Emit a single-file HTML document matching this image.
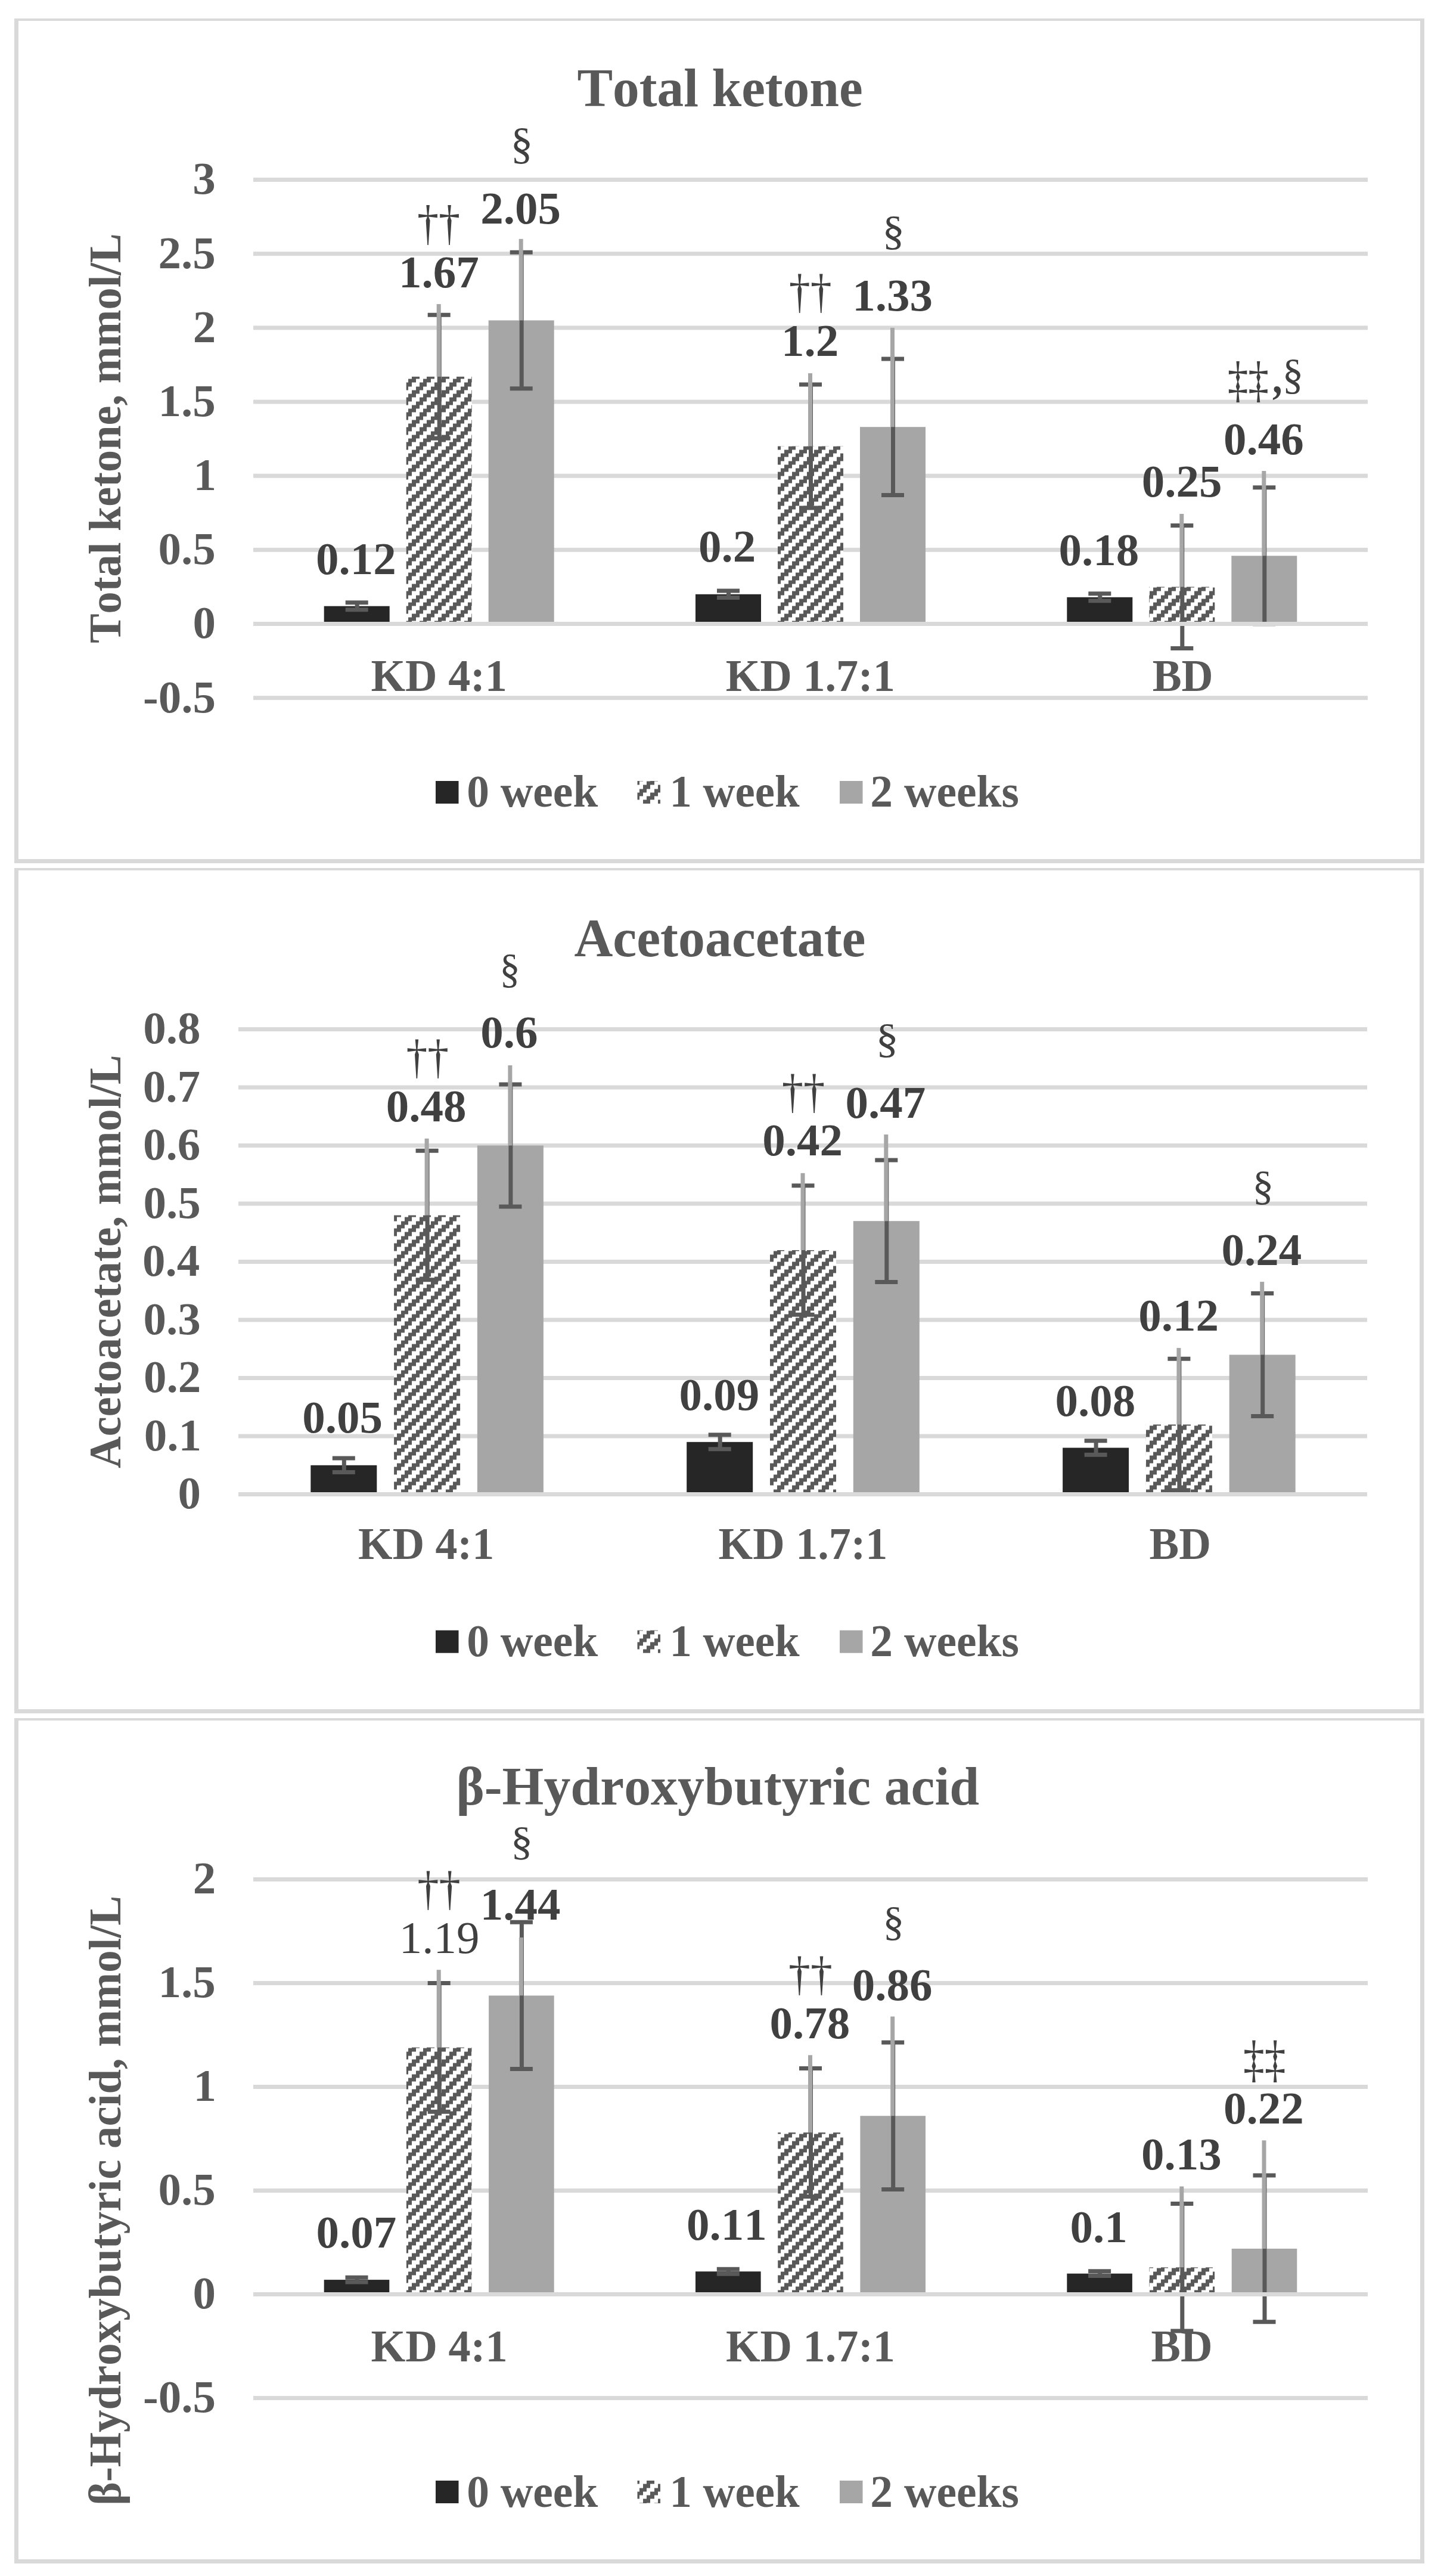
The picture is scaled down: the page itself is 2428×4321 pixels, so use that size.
<!DOCTYPE html>
<html><head><meta charset="utf-8"><title>Ketone bodies</title>
<style>html,body{margin:0;padding:0;background:#fff}svg{display:block}text{font-family:"Liberation Serif",serif;font-weight:bold;fill:#595959;white-space:pre;font-kerning:none}text.d,.d{fill:#404040}text.n,.n{font-weight:normal}</style></head><body>
<svg width="2428" height="4321" viewBox="0 0 2428 4321">
<defs><pattern id="hatch" patternUnits="userSpaceOnUse" x="685" y="635.5" width="25" height="25"><path shape-rendering="crispEdges" d="M0 0h12.5v6.25h-12.5zM18.75 6.25h6.25v6.25h-6.25zM0 6.25h6.25v6.25h-6.25zM12.5 12.5h12.5v6.25h-12.5zM6.25 18.75h12.5v6.25h-12.5z" fill="#595959"/></pattern></defs>
<rect width="2428" height="4321" fill="#fff"/>
<g id="p1">
<path d="M24 31H2390V1448H24Z M31 35V1441H2383V35Z" fill="#D9D9D9" fill-rule="evenodd"/>
<rect x="425" y="298.00" width="1870" height="7" fill="#D9D9D9"/>
<rect x="425" y="422.17" width="1870" height="7" fill="#D9D9D9"/>
<rect x="425" y="546.33" width="1870" height="7" fill="#D9D9D9"/>
<rect x="425" y="670.50" width="1870" height="7" fill="#D9D9D9"/>
<rect x="425" y="794.67" width="1870" height="7" fill="#D9D9D9"/>
<rect x="425" y="918.83" width="1870" height="7" fill="#D9D9D9"/>
<rect x="425" y="1043.00" width="1870" height="7" fill="#D9D9D9"/>
<rect x="425" y="1167.17" width="1870" height="7" fill="#D9D9D9"/>
<text x="323.2" y="325.3" font-size="77">3</text>
<text x="265.6" y="449.5" font-size="77">2.5</text>
<text x="323.8" y="573.6" font-size="77">2</text>
<text x="265.6" y="697.8" font-size="77">1.5</text>
<text x="324.5" y="822.0" font-size="77">1</text>
<text x="265.6" y="946.1" font-size="77">0.5</text>
<text x="323.4" y="1070.3" font-size="77">0</text>
<text x="240.0" y="1194.5" font-size="77">-0.5</text>
<text x="968.5" y="177.8" font-size="90.4" textLength="479.2" lengthAdjust="spacingAndGlyphs">Total ketone</text>
<text transform="translate(202.0,1079.0) rotate(-90)" font-size="75.3" textLength="687.6" lengthAdjust="spacingAndGlyphs">Total ketone, mmol/L</text>
<rect x="543.7" y="1016.7" width="110" height="29.8" fill="#262626"/>
<rect x="681.7" y="631.8" width="110" height="414.7" fill="#fff"/>
<rect x="681.7" y="631.8" width="110" height="414.7" fill="url(#hatch)"/>
<rect x="819.7" y="537.4" width="110" height="509.1" fill="#A6A6A6"/>
<rect x="1167.0" y="996.8" width="110" height="49.7" fill="#262626"/>
<rect x="1305.0" y="748.5" width="110" height="298.0" fill="#fff"/>
<rect x="1305.0" y="748.5" width="110" height="298.0" fill="url(#hatch)"/>
<rect x="1443.0" y="716.2" width="110" height="330.3" fill="#A6A6A6"/>
<rect x="1790.3" y="1001.8" width="110" height="44.7" fill="#262626"/>
<rect x="1928.3" y="984.4" width="110" height="62.1" fill="#fff"/>
<rect x="1928.3" y="984.4" width="110" height="62.1" fill="url(#hatch)"/>
<rect x="2066.3" y="932.3" width="110" height="114.2" fill="#A6A6A6"/>
<text x="622.5" y="1158.5" font-size="75.5" textLength="228.4" lengthAdjust="spacingAndGlyphs">KD 4:1</text>
<text x="1217.7" y="1158.5" font-size="75.5" textLength="284.2" lengthAdjust="spacingAndGlyphs">KD 1.7:1</text>
<text x="1933.7" y="1158.5" font-size="75.5" textLength="101.9" lengthAdjust="spacingAndGlyphs">BD</text>
<path d="M599.2 1010.7V1022.7M579.7 1010.7h38M579.7 1022.7h38" stroke="#595959" stroke-width="7" fill="none"/>
<path d="M737.2 528.2V735.3M717.7 528.2h38M717.7 735.3h38" stroke="#595959" stroke-width="7" fill="none"/>
<rect x="732.7" y="510.1" width="7" height="121.7" fill="#A6A6A6"/>
<path d="M875.2 423.2V651.7M855.7 423.2h38M855.7 651.7h38" stroke="#595959" stroke-width="7" fill="none"/>
<rect x="870.7" y="400.8" width="7" height="136.6" fill="#A6A6A6"/>
<path d="M1222.5 991.1V1002.5M1203.0 991.1h38M1203.0 1002.5h38" stroke="#595959" stroke-width="7" fill="none"/>
<path d="M1360.5 644.9V852.1M1341.0 644.9h38M1341.0 852.1h38" stroke="#595959" stroke-width="7" fill="none"/>
<rect x="1356.0" y="626.1" width="7" height="122.4" fill="#A6A6A6"/>
<path d="M1498.5 602.0V830.5M1479.0 602.0h38M1479.0 830.5h38" stroke="#595959" stroke-width="7" fill="none"/>
<rect x="1494.0" y="549.8" width="7" height="166.4" fill="#A6A6A6"/>
<path d="M1845.8 995.8V1007.8M1826.3 995.8h38M1826.3 1007.8h38" stroke="#595959" stroke-width="7" fill="none"/>
<path d="M1983.8 881.4V1087.5M1964.3 881.4h38M1964.3 1087.5h38" stroke="#595959" stroke-width="7" fill="none"/>
<rect x="1979.3" y="862.0" width="7" height="122.4" fill="#A6A6A6"/>
<path d="M2121.8 817.8V1046.7M2102.3 817.8h38M2102.3 1046.7h38" stroke="#595959" stroke-width="7" fill="none"/>
<rect x="2117.3" y="790.0" width="7" height="142.3" fill="#A6A6A6"/>
<rect x="425" y="1043.00" width="1870" height="7" fill="#D9D9D9"/>
<text x="529.9" y="963.4" font-size="77" class="d">0.12</text>
<text x="668.9" y="481.7" font-size="77" class="d">1.67</text>
<text x="806.3" y="374.8" font-size="77" class="d">2.05</text>
<text x="700.0" y="400.5" font-size="82.7" class="d n" textLength="72.2" lengthAdjust="spacingAndGlyphs">††</text>
<text x="856.6" y="264.8" font-size="73.8" class="d n" textLength="37.8" lengthAdjust="spacingAndGlyphs">§</text>
<text x="1171.9" y="942.0" font-size="77" class="d">0.2</text>
<text x="1311.0" y="597.0" font-size="77" class="d">1.2</text>
<text x="1430.3" y="521.2" font-size="77" class="d">1.33</text>
<text x="1323.8" y="515.9" font-size="80.1" class="d n" textLength="71.8" lengthAdjust="spacingAndGlyphs">††</text>
<text x="1480.3" y="410.1" font-size="69.8" class="d n" textLength="37.8" lengthAdjust="spacingAndGlyphs">§</text>
<text x="1776.6" y="947.5" font-size="77" class="d">0.18</text>
<text x="1915.7" y="833.3" font-size="77" class="d">0.25</text>
<text x="2053.1" y="761.7" font-size="77" class="d">0.46</text>
<text x="2059.7" y="665.2" font-size="83.7" class="d n" textLength="69.3" lengthAdjust="spacingAndGlyphs">‡‡</text>
<text x="2135.1" y="659.0" font-size="77" class="d" textLength="16.6" lengthAdjust="spacingAndGlyphs">,</text>
<text x="2151.6" y="651.6" font-size="72.0" class="d n" textLength="35.7" lengthAdjust="spacingAndGlyphs">§</text>
<rect x="731" y="1310" width="38.5" height="38" fill="#262626"/>
<rect x="1069.5" y="1310" width="38.5" height="38" fill="#fff"/>
<rect x="1069.5" y="1310" width="38.5" height="38" fill="url(#hatch)"/>
<rect x="1409" y="1310" width="38.5" height="38" fill="#A6A6A6"/>
<text x="783.2" y="1353.0" font-size="75.5">0 week</text>
<text x="1123.5" y="1353.0" font-size="75.5" textLength="218.1" lengthAdjust="spacingAndGlyphs">1 week</text>
<text x="1460.3" y="1353.0" font-size="75.5">2 weeks</text>
</g>
<g id="p2">
<path d="M24 1456H2389V2874H24Z M31 1460V2867H2382V1460Z" fill="#D9D9D9" fill-rule="evenodd"/>
<rect x="400" y="1723.00" width="1894" height="7" fill="#D9D9D9"/>
<rect x="400" y="1820.50" width="1894" height="7" fill="#D9D9D9"/>
<rect x="400" y="1918.00" width="1894" height="7" fill="#D9D9D9"/>
<rect x="400" y="2015.50" width="1894" height="7" fill="#D9D9D9"/>
<rect x="400" y="2113.00" width="1894" height="7" fill="#D9D9D9"/>
<rect x="400" y="2210.50" width="1894" height="7" fill="#D9D9D9"/>
<rect x="400" y="2308.00" width="1894" height="7" fill="#D9D9D9"/>
<rect x="400" y="2405.50" width="1894" height="7" fill="#D9D9D9"/>
<rect x="400" y="2503.00" width="1894" height="7" fill="#D9D9D9"/>
<text x="240.3" y="1750.3" font-size="77">0.8</text>
<text x="239.7" y="1847.8" font-size="77">0.7</text>
<text x="240.1" y="1945.3" font-size="77">0.6</text>
<text x="240.6" y="2042.8" font-size="77">0.5</text>
<text x="239.1" y="2140.3" font-size="77">0.4</text>
<text x="240.4" y="2237.8" font-size="77">0.3</text>
<text x="241.0" y="2335.3" font-size="77">0.2</text>
<text x="241.8" y="2432.8" font-size="77">0.1</text>
<text x="298.4" y="2530.3" font-size="77">0</text>
<text x="963.4" y="1604.0" font-size="90.4" textLength="489.1" lengthAdjust="spacingAndGlyphs">Acetoacetate</text>
<text transform="translate(202.0,2462.9) rotate(-90)" font-size="75.3" textLength="693.5" lengthAdjust="spacingAndGlyphs">Acetoacetate, mmol/L</text>
<rect x="521.3" y="2457.8" width="111" height="48.8" fill="#262626"/>
<rect x="661.1" y="2038.5" width="111" height="468.0" fill="#fff"/>
<rect x="661.1" y="2038.5" width="111" height="468.0" fill="url(#hatch)"/>
<rect x="800.9" y="1921.5" width="111" height="585.0" fill="#A6A6A6"/>
<rect x="1152.2" y="2418.8" width="111" height="87.8" fill="#262626"/>
<rect x="1292.0" y="2097.0" width="111" height="409.5" fill="#fff"/>
<rect x="1292.0" y="2097.0" width="111" height="409.5" fill="url(#hatch)"/>
<rect x="1431.8" y="2048.2" width="111" height="458.2" fill="#A6A6A6"/>
<rect x="1783.1" y="2428.5" width="111" height="78.0" fill="#262626"/>
<rect x="1922.9" y="2389.5" width="111" height="117.0" fill="#fff"/>
<rect x="1922.9" y="2389.5" width="111" height="117.0" fill="url(#hatch)"/>
<rect x="2062.7" y="2272.5" width="111" height="234.0" fill="#A6A6A6"/>
<text x="601.1" y="2615.0" font-size="75.5" textLength="228.1" lengthAdjust="spacingAndGlyphs">KD 4:1</text>
<text x="1205.6" y="2615.0" font-size="75.5" textLength="283.8" lengthAdjust="spacingAndGlyphs">KD 1.7:1</text>
<text x="1928.6" y="2615.0" font-size="75.5" textLength="103.5" lengthAdjust="spacingAndGlyphs">BD</text>
<path d="M577.3 2446.1V2469.4M557.8 2446.1h38M557.8 2469.4h38" stroke="#595959" stroke-width="7" fill="none"/>
<path d="M717.1 1930.3V2146.7M697.6 1930.3h38M697.6 2146.7h38" stroke="#595959" stroke-width="7" fill="none"/>
<rect x="712.6" y="1909.8" width="7" height="128.7" fill="#A6A6A6"/>
<path d="M856.9 1819.1V2023.9M837.4 1819.1h38M837.4 2023.9h38" stroke="#595959" stroke-width="7" fill="none"/>
<rect x="852.4" y="1787.0" width="7" height="134.5" fill="#A6A6A6"/>
<path d="M1208.2 2406.8V2430.7M1188.7 2406.8h38M1188.7 2430.7h38" stroke="#595959" stroke-width="7" fill="none"/>
<path d="M1348.0 1988.8V2205.2M1328.5 1988.8h38M1328.5 2205.2h38" stroke="#595959" stroke-width="7" fill="none"/>
<rect x="1343.5" y="1967.8" width="7" height="129.2" fill="#A6A6A6"/>
<path d="M1487.8 1945.9V2150.6M1468.3 1945.9h38M1468.3 2150.6h38" stroke="#595959" stroke-width="7" fill="none"/>
<rect x="1483.3" y="1903.0" width="7" height="145.3" fill="#A6A6A6"/>
<path d="M1839.1 2416.8V2440.2M1819.6 2416.8h38M1819.6 2440.2h38" stroke="#595959" stroke-width="7" fill="none"/>
<path d="M1978.9 2279.3V2499.7M1959.4 2279.3h38M1959.4 2499.7h38" stroke="#595959" stroke-width="7" fill="none"/>
<rect x="1974.4" y="2261.1" width="7" height="128.4" fill="#A6A6A6"/>
<path d="M2118.7 2169.6V2375.4M2099.2 2169.6h38M2099.2 2375.4h38" stroke="#595959" stroke-width="7" fill="none"/>
<rect x="2114.2" y="2150.1" width="7" height="122.4" fill="#A6A6A6"/>
<rect x="400" y="2503.00" width="1894" height="7" fill="#D9D9D9"/>
<text x="507.2" y="2402.6" font-size="77" class="d">0.05</text>
<text x="647.8" y="1881.0" font-size="77" class="d">0.48</text>
<text x="806.3" y="1756.7" font-size="77" class="d">0.6</text>
<text x="681.4" y="1799.6" font-size="79.6" class="d n" textLength="71.5" lengthAdjust="spacingAndGlyphs">††</text>
<text x="838.2" y="1647.8" font-size="69.7" class="d n" textLength="34.5" lengthAdjust="spacingAndGlyphs">§</text>
<text x="1139.4" y="2364.8" font-size="77" class="d">0.09</text>
<text x="1279.3" y="1938.4" font-size="77" class="d">0.42</text>
<text x="1418.4" y="1875.2" font-size="77" class="d">0.47</text>
<text x="1311.7" y="1857.7" font-size="80.9" class="d n" textLength="72.4" lengthAdjust="spacingAndGlyphs">††</text>
<text x="1469.5" y="1765.4" font-size="70.2" class="d n" textLength="38.3" lengthAdjust="spacingAndGlyphs">§</text>
<text x="1770.5" y="2374.7" font-size="77" class="d">0.08</text>
<text x="1910.2" y="2232.0" font-size="77" class="d">0.12</text>
<text x="2049.6" y="2121.5" font-size="77" class="d">0.24</text>
<text x="2101.2" y="2011.8" font-size="69.5" class="d n" textLength="36.1" lengthAdjust="spacingAndGlyphs">§</text>
<rect x="731" y="2734.7" width="38.5" height="38" fill="#262626"/>
<rect x="1069.5" y="2734.7" width="38.5" height="38" fill="#fff"/>
<rect x="1069.5" y="2734.7" width="38.5" height="38" fill="url(#hatch)"/>
<rect x="1409" y="2734.7" width="38.5" height="38" fill="#A6A6A6"/>
<text x="783.2" y="2777.6" font-size="75.5">0 week</text>
<text x="1123.5" y="2777.6" font-size="75.5" textLength="218.1" lengthAdjust="spacingAndGlyphs">1 week</text>
<text x="1460.3" y="2777.6" font-size="75.5">2 weeks</text>
</g>
<g id="p3">
<path d="M24 2882H2390V4300H24Z M31 2886V4293H2383V2886Z" fill="#D9D9D9" fill-rule="evenodd"/>
<rect x="425" y="3149.00" width="1870" height="7" fill="#D9D9D9"/>
<rect x="425" y="3323.00" width="1870" height="7" fill="#D9D9D9"/>
<rect x="425" y="3497.00" width="1870" height="7" fill="#D9D9D9"/>
<rect x="425" y="3671.00" width="1870" height="7" fill="#D9D9D9"/>
<rect x="425" y="3845.00" width="1870" height="7" fill="#D9D9D9"/>
<rect x="425" y="4019.00" width="1870" height="7" fill="#D9D9D9"/>
<text x="323.8" y="3176.3" font-size="77">2</text>
<text x="265.6" y="3350.3" font-size="77">1.5</text>
<text x="324.5" y="3524.3" font-size="77">1</text>
<text x="265.6" y="3698.3" font-size="77">0.5</text>
<text x="323.4" y="3872.3" font-size="77">0</text>
<text x="240.0" y="4046.3" font-size="77">-0.5</text>
<text x="765.4" y="3026.9" font-size="90.4" textLength="877.9" lengthAdjust="spacingAndGlyphs">β-Hydroxybutyric acid</text>
<text transform="translate(202.3,4202.5) rotate(-90)" font-size="75.3" textLength="1022.6" lengthAdjust="spacingAndGlyphs">β-Hydroxybutyric acid, mmol/L</text>
<rect x="543.7" y="3824.1" width="109.6" height="24.4" fill="#262626"/>
<rect x="681.9" y="3434.4" width="109.6" height="414.1" fill="#fff"/>
<rect x="681.9" y="3434.4" width="109.6" height="414.1" fill="url(#hatch)"/>
<rect x="820.1" y="3347.4" width="109.6" height="501.1" fill="#A6A6A6"/>
<rect x="1167.0" y="3810.2" width="109.6" height="38.3" fill="#262626"/>
<rect x="1305.2" y="3577.1" width="109.6" height="271.4" fill="#fff"/>
<rect x="1305.2" y="3577.1" width="109.6" height="271.4" fill="url(#hatch)"/>
<rect x="1443.4" y="3549.2" width="109.6" height="299.3" fill="#A6A6A6"/>
<rect x="1790.3" y="3813.7" width="109.6" height="34.8" fill="#262626"/>
<rect x="1928.5" y="3803.3" width="109.6" height="45.2" fill="#fff"/>
<rect x="1928.5" y="3803.3" width="109.6" height="45.2" fill="url(#hatch)"/>
<rect x="2066.7" y="3771.9" width="109.6" height="76.6" fill="#A6A6A6"/>
<text x="622.5" y="3961.0" font-size="75.5" textLength="229.1" lengthAdjust="spacingAndGlyphs">KD 4:1</text>
<text x="1218.0" y="3961.0" font-size="75.5" textLength="283.9" lengthAdjust="spacingAndGlyphs">KD 1.7:1</text>
<text x="1931.6" y="3961.0" font-size="75.5" textLength="102.9" lengthAdjust="spacingAndGlyphs">BD</text>
<path d="M599.0 3820.2V3828.1M579.5 3820.2h38M579.5 3828.1h38" stroke="#595959" stroke-width="7" fill="none"/>
<path d="M737.2 3326.5V3542.3M717.7 3326.5h38M717.7 3542.3h38" stroke="#595959" stroke-width="7" fill="none"/>
<rect x="732.7" y="3304.2" width="7" height="130.2" fill="#A6A6A6"/>
<path d="M875.4 3224.2V3470.6M855.9 3224.2h38M855.9 3470.6h38" stroke="#595959" stroke-width="7" fill="none"/>
<rect x="870.9" y="3249.9" width="7" height="97.4" fill="#A6A6A6"/>
<path d="M1222.3 3806.3V3814.2M1202.8 3806.3h38M1202.8 3814.2h38" stroke="#595959" stroke-width="7" fill="none"/>
<path d="M1360.5 3469.5V3684.6M1341.0 3469.5h38M1341.0 3684.6h38" stroke="#595959" stroke-width="7" fill="none"/>
<rect x="1356.0" y="3447.3" width="7" height="129.8" fill="#A6A6A6"/>
<path d="M1498.7 3426.0V3672.4M1479.2 3426.0h38M1479.2 3672.4h38" stroke="#595959" stroke-width="7" fill="none"/>
<rect x="1494.2" y="3382.5" width="7" height="166.7" fill="#A6A6A6"/>
<path d="M1845.6 3809.8V3817.6M1826.1 3809.8h38M1826.1 3817.6h38" stroke="#595959" stroke-width="7" fill="none"/>
<path d="M1983.8 3696.4V3910.1M1964.3 3696.4h38M1964.3 3910.1h38" stroke="#595959" stroke-width="7" fill="none"/>
<rect x="1979.3" y="3667.5" width="7" height="135.7" fill="#A6A6A6"/>
<path d="M2122.0 3649.1V3894.8M2102.5 3649.1h38M2102.5 3894.8h38" stroke="#595959" stroke-width="7" fill="none"/>
<rect x="2117.5" y="3590.3" width="7" height="181.7" fill="#A6A6A6"/>
<rect x="425" y="3845.00" width="1870" height="7" fill="#D9D9D9"/>
<text x="530.6" y="3769.8" font-size="77" class="d">0.07</text>
<text x="669.8" y="3275.7" font-size="77" class="d n">1.19</text>
<text x="805.8" y="3220.0" font-size="77" class="d">1.44</text>
<text x="700.2" y="3195.0" font-size="80.9" class="d n" textLength="72.6" lengthAdjust="spacingAndGlyphs">††</text>
<text x="856.7" y="3110.5" font-size="68.3" class="d n" textLength="37.4" lengthAdjust="spacingAndGlyphs">§</text>
<text x="1152.0" y="3757.3" font-size="77" class="d">0.11</text>
<text x="1291.6" y="3419.0" font-size="77" class="d">0.78</text>
<text x="1429.8" y="3355.3" font-size="77" class="d">0.86</text>
<text x="1323.1" y="3338.3" font-size="80.9" class="d n" textLength="73.6" lengthAdjust="spacingAndGlyphs">††</text>
<text x="1481.2" y="3245.5" font-size="70.7" class="d n" textLength="36.1" lengthAdjust="spacingAndGlyphs">§</text>
<text x="1795.5" y="3760.8" font-size="77" class="d">0.1</text>
<text x="1914.9" y="3638.9" font-size="77" class="d">0.13</text>
<text x="2053.1" y="3561.8" font-size="77" class="d">0.22</text>
<text x="2086.0" y="3483.0" font-size="85.8" class="d n" textLength="71.5" lengthAdjust="spacingAndGlyphs">‡‡</text>
<rect x="731" y="4161" width="38.5" height="38" fill="#262626"/>
<rect x="1069.5" y="4161" width="38.5" height="38" fill="#fff"/>
<rect x="1069.5" y="4161" width="38.5" height="38" fill="url(#hatch)"/>
<rect x="1409" y="4161" width="38.5" height="38" fill="#A6A6A6"/>
<text x="783.2" y="4204.5" font-size="75.5">0 week</text>
<text x="1123.5" y="4204.5" font-size="75.5" textLength="218.1" lengthAdjust="spacingAndGlyphs">1 week</text>
<text x="1460.3" y="4204.5" font-size="75.5">2 weeks</text>
</g>
</svg></body></html>
